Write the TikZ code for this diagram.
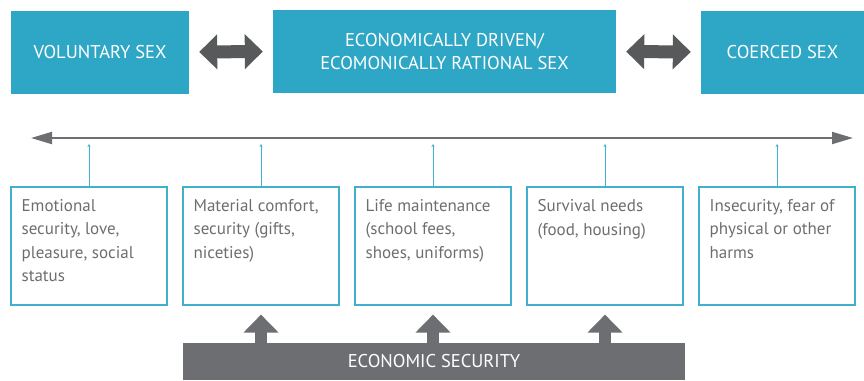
\documentclass[tikz,border=0pt]{standalone}
\usepackage{fontspec}
\setmainfont{PT Sans}
\usetikzlibrary{arrows.meta}
\definecolor{tealbox}{HTML}{2EA7C6}
\definecolor{tealline}{HTML}{42AFCE}
\definecolor{darkgrey}{HTML}{58595B}
\definecolor{midgrey}{HTML}{6D6E71}

\begin{document}
\begin{tikzpicture}[x=1pt,y=-1pt,
    headbox/.style={fill=tealbox,text=white,minimum height=83pt,inner sep=0pt,align=center,font=\fontsize{18.5}{23}\selectfont},
    infobox/.style={draw=tealline,line width=1.2pt,minimum width=156pt,minimum height=118pt,inner sep=0pt},
    infotext/.style={anchor=north west,inner sep=0pt,text=midgrey,align=left,font=\fontsize{17}{23.3}\selectfont},
    swap/.style={darkgrey,line width=13pt,{Triangle[width=34pt,length=18pt]}-{Triangle[width=34pt,length=18pt]},shorten <=10pt,shorten >=10pt},
    push/.style={midgrey,line width=12pt,-{Triangle[width=34pt,length=18pt]},shorten >=9pt},
    tick/.style={tealline,line width=1pt,-{Stealth[length=3pt,width=3pt]}}]
  \useasboundingbox (0,0) rectangle (864,380);
  % top row
  \node[headbox,minimum width=178pt] (vol) at (100,52) {VOLUNTARY SEX};
  \node[headbox,minimum width=343pt] (eco) at (444.5,51.5) {ECONOMICALLY DRIVEN/\\ECOMONICALLY RATIONAL SEX};
  \node[headbox,minimum width=163pt] (coe) at (782.5,52) {COERCED SEX};
  \draw[swap] (vol.east) -- (eco.west);
  \draw[swap] (eco.east) -- (coe.west);
  % scale line
  \coordinate (lft) at (31,138);
  \coordinate (rgt) at (853,138);
  \draw[midgrey,line width=2pt,{Triangle[width=12pt,length=21pt]}-{Triangle[width=12pt,length=21pt]}] (lft) -- (rgt);
  % motives
  \foreach \i/\txt in {1/{Emotional\\security, love,\\pleasure, social\\status},
                       2/{Material comfort,\\security (gifts,\\niceties)},
                       3/{Life maintenance\\(school fees,\\shoes, uniforms)},
                       4/{Survival needs\\(food, housing)},
                       5/{Insecurity, fear of\\physical or other\\harms}}{
    \node[infobox] (b\i) at ({89+172*(\i-1)},246) {};
    \node[infotext] (t\i) at ([xshift=11pt,yshift=-13pt]b\i.north west) {\txt};
    \coordinate (k\i) at (b\i.north |- 0,144);
    \draw[tick] (b\i.north) -- (k\i);
  }
  % base
  \node[fill=midgrey,text=white,minimum width=502pt,minimum height=37pt,inner sep=0pt,font=\fontsize{18.5}{23}\selectfont] (base) at (434,361.5) {ECONOMIC SECURITY};
  \foreach \i in {2,3,4}
    \draw[push] (base.north -| b\i.south) -- (b\i.south);
\end{tikzpicture}
\end{document}
